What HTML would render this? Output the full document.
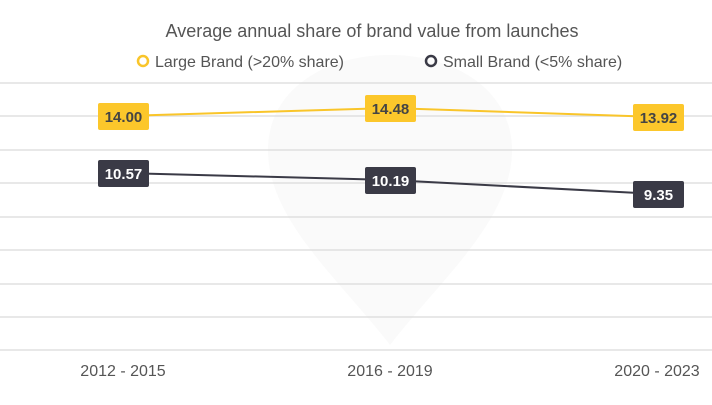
<!DOCTYPE html>
<html><head><style>
body{margin:0;background:#fff;}
svg text{font-family:"Liberation Sans",Arial,sans-serif;}
</style></head><body>
<svg width="712" height="400" xmlns="http://www.w3.org/2000/svg">
<rect width="712" height="400" fill="#fff"/>
<path d="M390 345 C340 280 268 220 268 150 C268 90 325 55 390 55 C455 55 512 90 512 150 C512 220 440 280 390 345Z" fill="#fafafa"/>
<g stroke="#e0e0e0" stroke-width="1.5">
<line x1="0" y1="83" x2="712" y2="83"/>
<line x1="0" y1="116" x2="712" y2="116"/>
<line x1="0" y1="150" x2="712" y2="150"/>
<line x1="0" y1="183" x2="712" y2="183"/>
<line x1="0" y1="217" x2="712" y2="217"/>
<line x1="0" y1="250" x2="712" y2="250"/>
<line x1="0" y1="284" x2="712" y2="284"/>
<line x1="0" y1="317" x2="712" y2="317"/>
<line x1="0" y1="350" x2="712" y2="350"/>
</g>
<text x="372" y="37" text-anchor="middle" font-size="18" fill="#555">Average annual share of brand value from launches</text>
<circle cx="143" cy="61" r="5" fill="none" stroke="#f9c52a" stroke-width="2.5"/>
<text x="155" y="67" font-size="16" fill="#555">Large Brand (&gt;20% share)</text>
<circle cx="431" cy="61" r="5" fill="none" stroke="#3a3a46" stroke-width="2.5"/>
<text x="443" y="67" font-size="16" fill="#555">Small Brand (&lt;5% share)</text>
<polyline points="123,116 390,108 657,117" fill="none" stroke="#f9c52a" stroke-width="2"/>
<polyline points="123,173 390,180 657,194" fill="none" stroke="#3a3a46" stroke-width="2"/>
<g font-size="15" font-weight="bold" text-anchor="middle">
<rect x="98" y="103" width="51" height="27" rx="2" fill="#fcc72b"/>
<text x="123.5" y="122" fill="#444">14.00</text>
<rect x="365" y="95" width="51" height="27" rx="2" fill="#fcc72b"/>
<text x="390.5" y="114" fill="#444">14.48</text>
<rect x="633" y="104" width="51" height="27" rx="2" fill="#fcc72b"/>
<text x="658.5" y="123" fill="#444">13.92</text>
<rect x="98" y="160" width="51" height="27" rx="2" fill="#3a3a46"/>
<text x="123.5" y="179" fill="#fff">10.57</text>
<rect x="365" y="167" width="51" height="27" rx="2" fill="#3a3a46"/>
<text x="390.5" y="186" fill="#fff">10.19</text>
<rect x="633" y="181" width="51" height="27" rx="2" fill="#3a3a46"/>
<text x="658.5" y="200" fill="#fff">9.35</text>
</g>
<g font-size="16" fill="#555" text-anchor="middle">
<text x="123" y="376">2012 - 2015</text>
<text x="390" y="376">2016 - 2019</text>
<text x="657" y="376">2020 - 2023</text>
</g>
</svg>
</body></html>
